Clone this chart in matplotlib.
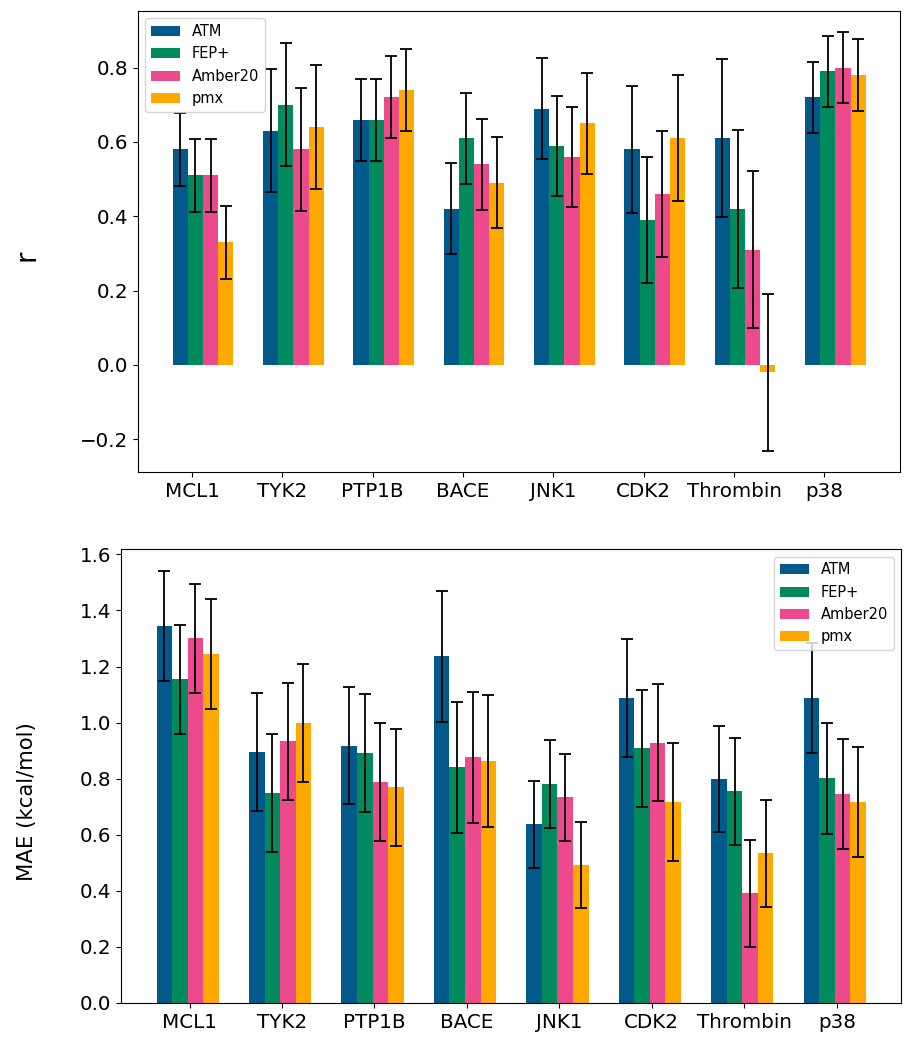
import matplotlib
matplotlib.use("Agg")
import matplotlib.pyplot as plt
import numpy as np

targets = ["MCL1", "TYK2", "PTP1B", "BACE", "JNK1", "CDK2", "Thrombin", "p38"]
methods = ["ATM", "FEP+", "Amber20", "pmx"]
colors = ["#015a8a", "#018a5e", "#ec4a8c", "#fea800"]

# Pearson r
r_atm = [0.58, 0.63, 0.66, 0.42, 0.69, 0.58, 0.61, 0.72]
r_fep = [0.51, 0.70, 0.66, 0.61, 0.59, 0.39, 0.42, 0.79]
r_amber = [0.51, 0.58, 0.72, 0.54, 0.56, 0.46, 0.31, 0.80]
r_pmx = [0.33, 0.64, 0.74, 0.49, 0.65, 0.61, -0.02, 0.78]
r_err_atm = [0.098, 0.166, 0.11, 0.122, 0.135, 0.17, 0.212, 0.096]
r_err_fep = [0.098, 0.166, 0.11, 0.122, 0.135, 0.17, 0.212, 0.096]
r_err_amber = [0.098, 0.166, 0.11, 0.122, 0.135, 0.17, 0.212, 0.096]
r_err_pmx = [0.098, 0.166, 0.11, 0.122, 0.135, 0.17, 0.212, 0.096]

# MAE (kcal/mol)
mae_atm = [1.345, 0.896, 0.918, 1.237, 0.637, 1.088, 0.799, 1.088]
mae_fep = [1.154, 0.750, 0.892, 0.840, 0.782, 0.908, 0.755, 0.801]
mae_amber = [1.301, 0.933, 0.788, 0.876, 0.733, 0.929, 0.391, 0.745]
mae_pmx = [1.245, 0.998, 0.769, 0.863, 0.492, 0.718, 0.534, 0.718]
mae_err_atm = [0.196, 0.21, 0.21, 0.234, 0.155, 0.209, 0.19, 0.195]
mae_err_fep = [0.195, 0.21, 0.21, 0.234, 0.157, 0.209, 0.19, 0.197]
mae_err_amber = [0.195, 0.21, 0.21, 0.234, 0.155, 0.21, 0.19, 0.197]
mae_err_pmx = [0.196, 0.21, 0.21, 0.235, 0.155, 0.21, 0.19, 0.196]

r_vals = [r_atm, r_fep, r_amber, r_pmx]
r_errs = [r_err_atm, r_err_fep, r_err_amber, r_err_pmx]
mae_vals = [mae_atm, mae_fep, mae_amber, mae_pmx]
mae_errs = [mae_err_atm, mae_err_fep, mae_err_amber, mae_err_pmx]

fig = plt.figure(figsize=(9.17, 10.5), dpi=100)
ax1 = fig.add_axes([0.1505, 0.5505, 0.8315, 0.439])
ax2 = fig.add_axes([0.132, 0.0448, 0.851, 0.432])

x = np.arange(len(targets))
w = 0.168

def draw(ax, vals, errs, start):
    for j, (v, e, c, m) in enumerate(zip(vals, errs, colors, methods)):
        ax.bar(x + start + j * w, v, width=w, align="edge", color=c, label=m,
               yerr=e, capsize=4,
               error_kw=dict(ecolor="black", elinewidth=1.3, capthick=1.3))
    ax.set_xticks(x)
    ax.set_xticklabels(targets)
    ax.tick_params(axis="both", labelsize=14.3)

draw(ax1, r_vals, r_errs, -0.214)
draw(ax2, mae_vals, mae_errs, -0.357)

ax1.set_ylabel("r", fontsize=20)
ax1.yaxis.set_label_coords(-0.128, 0.47)
ax2.set_ylabel("MAE (kcal/mol)", fontsize=15.3)
ax2.yaxis.set_label_coords(-0.108, 0.443)

ax1.legend(loc="upper left", fontsize=10.5)
ax2.legend(loc="upper right", fontsize=10.5)

fig.savefig("out.png", dpi=100)
